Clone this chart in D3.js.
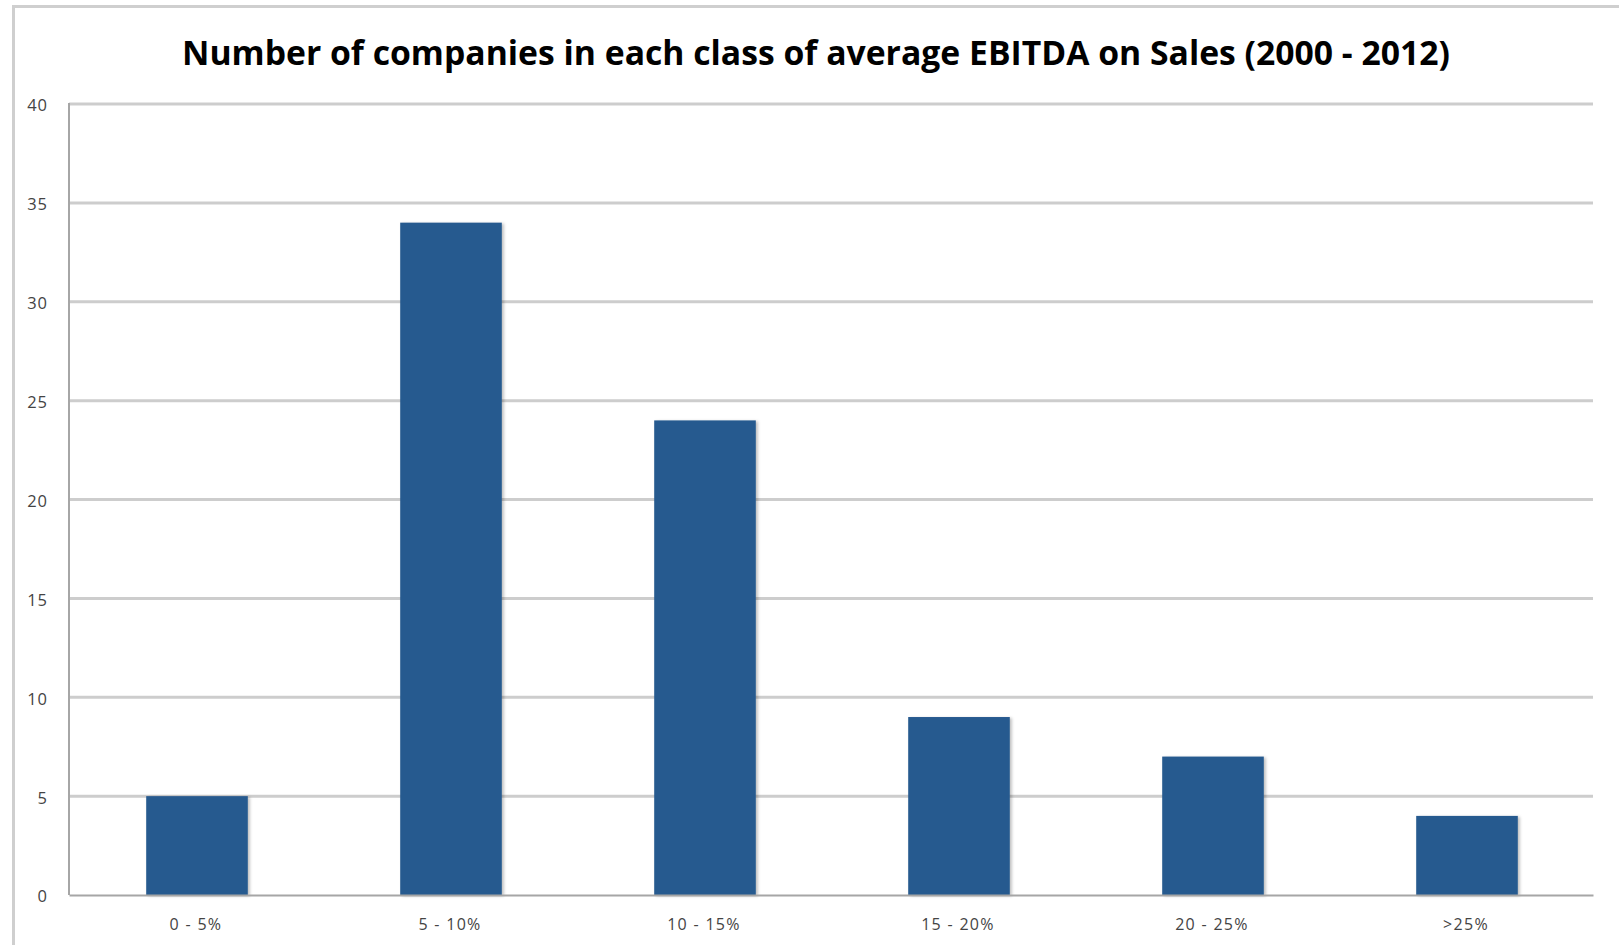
<!DOCTYPE html>
<html>
<head>
<meta charset="utf-8">
<script src="https://cdn.jsdelivr.net/npm/d3@7"></script>
<style>
  html, body { margin: 0; padding: 0; background: #fff; }
  svg { display: block; }
</style>
</head>
<body>
<svg id="chart" width="1619" height="945"></svg>
<script>
// EBITDA-on-sales classes and company counts
const classes = ["0 - 5%", "5 - 10%", "10 - 15%", "15 - 20%", "20 - 25%", ">25%"];
const companies = [5, 34, 24, 9, 7, 4];
const yTicks = [0, 5, 10, 15, 20, 25, 30, 35, 40];
const title = "Number of companies in each class of average EBITDA on Sales (2000 - 2012)";

const svg = d3.select("#chart");
const W = 1619, H = 945;
const margin = { left: 69, right: 26, top: 104, bottom: 50 };
const plotRight = W - margin.right;
const plotBottom = H - margin.bottom;

// drop shadow for bars
const defs = svg.append("defs");
const f = defs.append("filter").attr("id", "shadow")
  .attr("x", "-10%").attr("y", "-10%").attr("width", "130%").attr("height", "130%");
f.append("feDropShadow").attr("dx", 2).attr("dy", 1).attr("stdDeviation", 1.5)
  .attr("flood-color", "#000").attr("flood-opacity", 0.25);

// outer chart frame (left and top edges visible)
svg.append("path")
  .attr("d", `M13.5,${H} V6.5 H${W}`)
  .attr("fill", "none").attr("stroke", "#cfcfcf").attr("stroke-width", 3);

const x = d3.scaleBand()
  .domain(classes)
  .range([margin.left, plotRight])
  .paddingInner(0.6)
  .paddingOuter(0.3);

const y = d3.scaleLinear()
  .domain([0, 40])
  .range([plotBottom, margin.top]);

// horizontal gridlines
svg.append("g")
  .selectAll("line")
  .data(yTicks.filter(d => d > 0))
  .join("line")
  .attr("x1", margin.left).attr("x2", plotRight)
  .attr("y1", d => y(d)).attr("y2", d => y(d))
  .attr("stroke", "#cdcdcd").attr("stroke-width", 3);

// y axis labels
const yAxis = svg.append("g")
  .attr("transform", `translate(${margin.left},0)`)
  .call(d3.axisLeft(y).tickValues(yTicks).tickSize(0).tickPadding(21));
yAxis.select(".domain").remove();
yAxis.selectAll("text")
  .attr("font-family", "'Open Sans', sans-serif")
  .attr("font-size", 16.5)
  .attr("letter-spacing", 1)
  .attr("fill", "#444")
  .attr("dy", "0.42em");

// bars
svg.append("g")
  .selectAll("rect")
  .data(companies)
  .join("rect")
  .attr("x", (d, i) => x(classes[i]) + 1)
  .attr("y", d => y(d))
  .attr("width", x.bandwidth())
  .attr("height", d => y(0) - y(d))
  .attr("fill", "#285a8f")
  .attr("filter", "url(#shadow)");

// left axis line
svg.append("line")
  .attr("x1", margin.left).attr("x2", margin.left)
  .attr("y1", margin.top - 1).attr("y2", plotBottom)
  .attr("stroke", "#a6a6a6").attr("stroke-width", 2);

// x axis
const xAxis = svg.append("g")
  .attr("transform", `translate(0,${plotBottom})`)
  .call(d3.axisBottom(x).tickSize(0).tickPadding(24));
xAxis.select(".domain")
  .attr("stroke", "#a6a6a6").attr("stroke-width", 2);
xAxis.selectAll("text")
  .attr("font-family", "'Open Sans', sans-serif")
  .attr("font-size", 16)
  .attr("letter-spacing", 1.3)
  .attr("fill", "#444");

// chart title
svg.append("text")
  .attr("x", 816)
  .attr("y", 65)
  .attr("text-anchor", "middle")
  .attr("font-family", "'Open Sans', sans-serif")
  .attr("font-weight", "bold")
  .attr("font-size", 34)
  .attr("textLength", 1268)
  .attr("lengthAdjust", "spacingAndGlyphs")
  .attr("fill", "#000")
  .text(title);
</script>
</body>
</html>
